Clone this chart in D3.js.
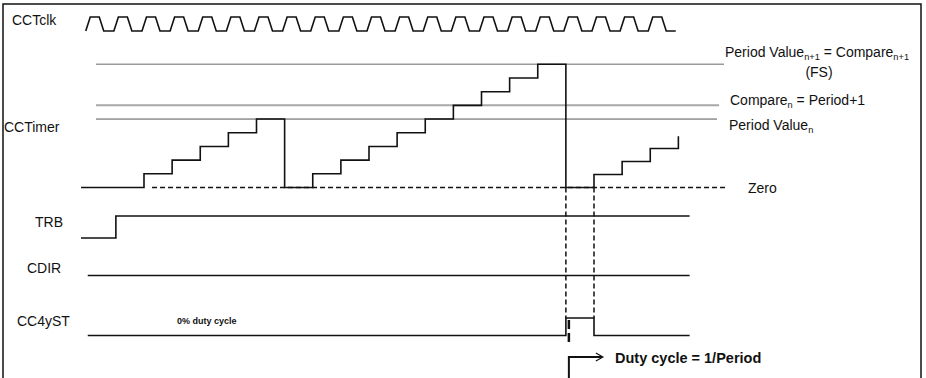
<!DOCTYPE html>
<html>
<head>
<meta charset="utf-8">
<script src="https://cdn.jsdelivr.net/npm/d3@7"></script>
<style>
  body { margin: 0; background: #fff; }
  svg text { font-family: Arial, "Liberation Sans", sans-serif; fill: #111; }
  .sig { fill: none; stroke: #111; stroke-width: 1.6; }
  .dash { fill: none; stroke: #111; stroke-width: 1.5; stroke-dasharray: 5,3; }
</style>
</head>
<body>
<div id="timing"></div>
<script>

// clock cycles shown on CCTclk (index of each rising edge)
var clkCycles = [0,1,2,3,4,5,6,7,8,9,10,11,12,13,14,15,16,17,18,19,20];

// CCTimer: [clock tick, counter value], drawn as steps
var timerSteps = [
    [-0.24,0],[2,1],[3,2],[4,3],[5,4],[6,5],
    [7,0],[8,1],[9,2],[10,3],[11,4],[12,5],[13,6],[14,7],[15,8],[16,9],
    [17,0],[18,0.95],[19,1.9],[20,2.85],[21,3.75]
];

// reference levels of the timer
var refNames = ["periodNext", "compareN", "periodN"];
var refValues = [9, 6, 5];

// digital signals: [clock tick, level]
var trbSteps = [[-0.24,0],[1,1],[21.4,1]];
var cdirSteps = [[0,0],[21.4,0]];
var cc4ystSteps = [[0,0],[17,1],[18,0],[21.4,0]];

// ticks where the period match / zero match is marked
var markTicks = [17, 18];

var width = 926, height = 378;

var svg = d3.select("#timing").append("svg")
    .attr("width", width)
    .attr("height", height);

// frame around the picture (bottom edge is cut off)
svg.append("rect")
    .attr("x", 3).attr("y", 4)
    .attr("width", 918).attr("height", 420)
    .attr("fill", "none")
    .attr("stroke", "#111")
    .attr("stroke-width", 1.5);

// time axis: one unit = one clock period
var x = d3.scaleLinear().domain([0, 20]).range([87.75, 650.25]);

// timer counter axis
var yT = d3.scaleLinear().domain([0, 9]).range([187.5, 64.3]);

// ---- clock ----
var clkLow = 31, clkHigh = 17;
var clkPts = [];
clkCycles.forEach(function (k) {
    var x0 = x(k) - 2;
    clkPts.push([x0, clkLow]);
    clkPts.push([x0 + 4.5, clkHigh]);
    clkPts.push([x0 + 13.5, clkHigh]);
    clkPts.push([x0 + 18, clkLow]);
});
clkPts.push([x(clkCycles[clkCycles.length - 1]) - 2 + 27.5, clkLow]);

svg.append("path")
    .attr("d", d3.line()(clkPts))
    .attr("class", "sig")
    .attr("stroke-width", 1.4);

// ---- reference lines ----
var refStyle = {
    periodNext: {x2: 724, color: "#9a9a9a", w: 1.6},
    compareN: {x2: 719, color: "#a8a8a8", w: 2},
    periodN: {x2: 717, color: "#555", w: 1}
};
svg.selectAll(".ref").data(refValues)
    .enter().append("line")
    .attr("class", "ref")
    .attr("x1", 96)
    .attr("x2", function (d, i) { return refStyle[refNames[i]].x2 })
    .attr("y1", function (d) { return yT(d) })
    .attr("y2", function (d) { return yT(d) })
    .attr("stroke", function (d, i) { return refStyle[refNames[i]].color })
    .attr("stroke-width", function (d, i) { return refStyle[refNames[i]].w });

// zero line (dashed)
svg.append("line")
    .attr("x1", 152).attr("x2", 725)
    .attr("y1", yT(0)).attr("y2", yT(0))
    .attr("class", "dash");

// ---- timer staircase ----
var stepLine = d3.line()
    .x(function (d) { return x(d[0]) })
    .y(function (d) { return yT(d[1]) })
    .curve(d3.curveStepAfter);

svg.append("path")
    .attr("d", stepLine(timerSteps))
    .attr("class", "sig");

// ---- digital signals ----
function digital(data, yLow, yHigh) {
    var yS = d3.scaleLinear().domain([0, 1]).range([yLow, yHigh]);
    var l = d3.line()
        .x(function (d) { return x(d[0]) })
        .y(function (d) { return yS(d[1]) })
        .curve(d3.curveStepAfter);
    svg.append("path").attr("d", l(data)).attr("class", "sig");
}
digital(trbSteps, 238, 216);
digital(cdirSteps, 275.5, 260);
digital(cc4ystSteps, 335.5, 318);

// dashed verticals from zero match down to the CC4yST pulse
svg.selectAll(".mark").data(markTicks)
    .enter().append("line")
    .attr("class", "dash")
    .attr("x1", function (d) { return x(d) })
    .attr("x2", function (d) { return x(d) })
    .attr("y1", yT(0))
    .attr("y2", 318)
    .attr("stroke-dasharray", "4,3");

// thick marker and arrow for the duty cycle note
var mx = x(markTicks[0]) + 3;
svg.append("line")
    .attr("x1", mx).attr("x2", mx)
    .attr("y1", 320).attr("y2", 344)
    .attr("stroke", "#111").attr("stroke-width", 2.5)
    .attr("stroke-dasharray", "9,4");
svg.append("path")
    .attr("d", "M" + mx + ",380 L" + mx + ",357 L" + (mx + 33) + ",357")
    .attr("fill", "none").attr("stroke", "#111").attr("stroke-width", 2);
svg.append("path")
    .attr("d", "M" + (mx + 27) + ",353 L" + (mx + 34) + ",357 L" + (mx + 27) + ",361")
    .attr("fill", "none").attr("stroke", "#111").attr("stroke-width", 1.2);

// ---- labels ----
var leftLabels = [
    {t: "CCTclk", x: 12, y: 25},
    {t: "CCTimer", x: 4, y: 132},
    {t: "TRB", x: 35, y: 227},
    {t: "CDIR", x: 27, y: 273},
    {t: "CC4yST", x: 17, y: 326}
];
svg.selectAll(".lab").data(leftLabels)
    .enter().append("text")
    .attr("class", "lab")
    .attr("x", function (d) { return d.x })
    .attr("y", function (d) { return d.y })
    .attr("font-size", 14)
    .text(function (d) { return d.t });

// text with subscripts, parts = [[text, isSub], ...]
function subText(parts, xx, yy, size) {
    var t = svg.append("text").attr("x", xx).attr("y", yy).attr("font-size", size);
    var prevSub = false;
    parts.forEach(function (p) {
        var s = t.append("tspan").text(p[0]);
        if (p[1]) s.attr("font-size", size * 0.66).attr("dy", 3);
        else s.attr("dy", prevSub ? -3 : 0);
        prevSub = p[1];
    });
    return t;
}

subText([["Period Value", 0], ["n+1", 1], [" = Compare", 0], ["n+1", 1]], 725, 57, 14);
svg.append("text").attr("x", 819).attr("y", 77).attr("font-size", 14)
    .attr("text-anchor", "middle").text("(FS)");
subText([["Compare", 0], ["n", 1], [" = Period+1", 0]], 730, 105, 14);
subText([["Period Value", 0], ["n", 1]], 729, 130, 14);

svg.append("text").attr("x", 748).attr("y", yT(0) + 5)
    .attr("font-size", 14).text("Zero");

svg.append("text").attr("x", 177).attr("y", 324)
    .attr("font-size", 9).attr("font-weight", "bold")
    .text("0% duty cycle");

svg.append("text").attr("x", 615).attr("y", 363)
    .attr("font-size", 14.5).attr("font-weight", "bold")
    .text("Duty cycle = 1/Period");

</script>
</body>
</html>
